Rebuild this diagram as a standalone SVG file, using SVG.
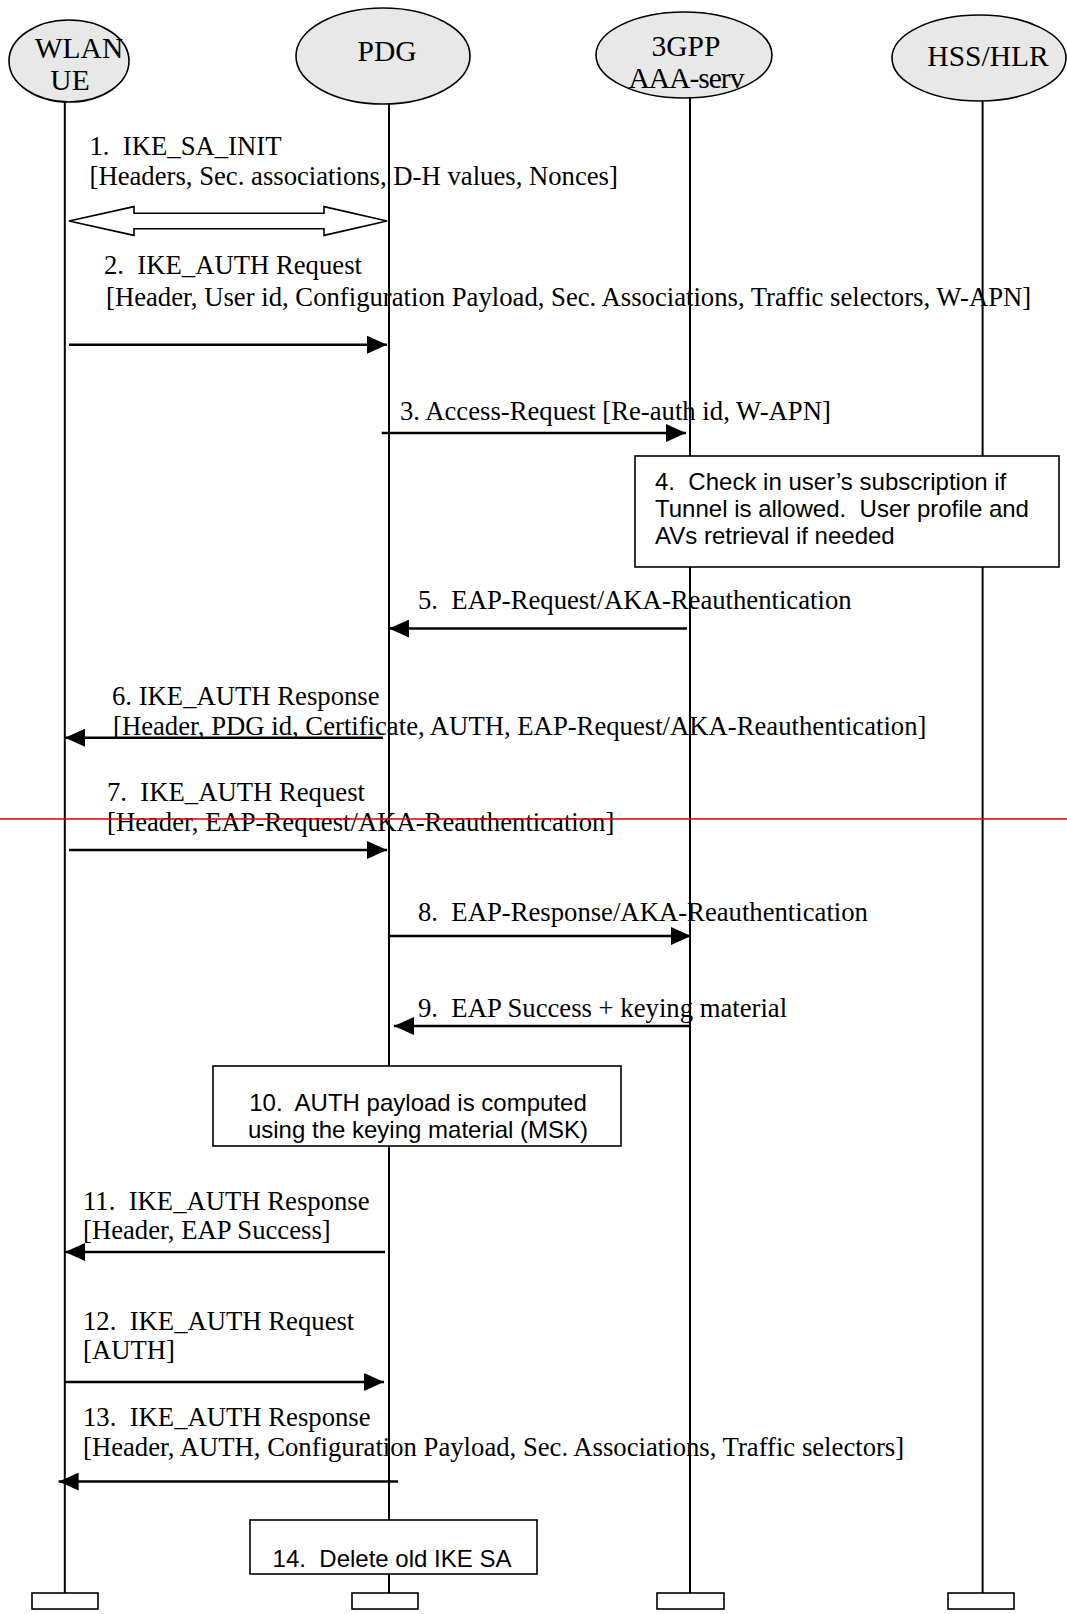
<svg xmlns="http://www.w3.org/2000/svg" width="1067" height="1614" viewBox="0 0 1067 1614">
<style>
.ent{fill:#e8e8e8;stroke:#000;stroke-width:1.6}
.life{stroke:#000;stroke-width:2;fill:none}
.foot{fill:#fff;stroke:#000;stroke-width:1.6}
.box{fill:#fff;stroke:#000;stroke-width:1.6}
.msg{stroke:#000;stroke-width:2.5;fill:none}
text{white-space:pre}
.t{font-family:"Liberation Serif","Times New Roman",serif;font-size:26.7px;fill:#000}
.et{font-family:"Liberation Serif","Times New Roman",serif;font-size:29.5px;fill:#000;text-anchor:middle}
.a{font-family:"Liberation Sans",Arial,sans-serif;font-size:24px;fill:#000}
</style>
<defs>
<marker id="ah" markerUnits="userSpaceOnUse" markerWidth="20" markerHeight="18" refX="20" refY="9" orient="auto">
<path d="M0,0 L20,9 L0,18 z" fill="#000"/>
</marker>
</defs>
<rect width="1067" height="1614" fill="#fff"/>

<g id="lifelines">
<line class="life" x1="64.8" y1="102" x2="64.8" y2="1593"/>
<line class="life" x1="389" y1="104" x2="389" y2="1593"/>
<line class="life" x1="690" y1="97" x2="690" y2="1593"/>
<line class="life" x1="982.6" y1="100" x2="982.6" y2="1593"/>
</g>

<g id="node-wlan-ue">
<ellipse class="ent" cx="69" cy="61" rx="60" ry="41"/>
<text class="et" x="79" y="58">WLAN</text>
<text class="et" x="70" y="90">UE</text>
<rect class="foot" x="32" y="1593" width="66" height="16"/>
</g>
<g id="node-pdg">
<ellipse class="ent" cx="383" cy="56" rx="87" ry="48"/>
<text class="et" x="387" y="61">PDG</text>
<rect class="foot" x="352" y="1593" width="66" height="16"/>
</g>
<g id="node-aaa">
<ellipse class="ent" cx="684" cy="55" rx="88" ry="43"/>
<text class="et" x="686" y="56">3GPP</text>
<text class="et" x="686" y="88" letter-spacing="-1">AAA-serv</text>
<rect class="foot" x="657" y="1593" width="67" height="16"/>
</g>
<g id="node-hss">
<ellipse class="ent" cx="979" cy="58" rx="87" ry="43"/>
<text class="et" x="988" y="65.5">HSS/HLR</text>
<rect class="foot" x="948" y="1593" width="66" height="16"/>
</g>

<g id="node-box4">
<rect class="box" x="635" y="456" width="424" height="111"/>
<text class="a" x="655" y="490">4.  Check in user’s subscription if</text>
<text class="a" x="655" y="516.5">Tunnel is allowed.  User profile and</text>
<text class="a" x="655" y="543.5">AVs retrieval if needed</text>
</g>
<g id="node-box10">
<rect class="box" x="213" y="1066" width="408" height="80"/>
<text class="a" x="418" y="1110.6" text-anchor="middle">10.  AUTH payload is computed</text>
<text class="a" x="418" y="1137.6" text-anchor="middle">using the keying material (MSK)</text>
</g>
<g id="node-box14">
<rect class="box" x="250" y="1520" width="287" height="54"/>
<text class="a" x="392" y="1566.6" text-anchor="middle">14.  Delete old IKE SA</text>
</g>

<g id="connectors">
<path d="M69,221 L134,206.6 L134,213.3 L324,213.3 L324,206.6 L387,221 L324,235.4 L324,228.7 L134,228.7 L134,235.4 Z" fill="#fff" stroke="#000" stroke-width="1.6"/>
<line class="msg" x1="69" y1="344.7" x2="387" y2="344.7" marker-end="url(#ah)"/>
<line class="msg" x1="381.7" y1="433" x2="686" y2="433" marker-end="url(#ah)"/>
<line class="msg" x1="687" y1="628.6" x2="389" y2="628.6" marker-end="url(#ah)"/>
<line class="msg" x1="383" y1="737.7" x2="65" y2="737.7" marker-end="url(#ah)"/>
<line class="msg" x1="69" y1="850" x2="387" y2="850" marker-end="url(#ah)"/>
<line class="msg" x1="389" y1="936" x2="691" y2="936" marker-end="url(#ah)"/>
<line class="msg" x1="691" y1="1026" x2="394" y2="1026" marker-end="url(#ah)"/>
<line class="msg" x1="385" y1="1252" x2="65" y2="1252" marker-end="url(#ah)"/>
<line class="msg" x1="65" y1="1382" x2="384" y2="1382" marker-end="url(#ah)"/>
<line class="msg" x1="398" y1="1481.6" x2="58.6" y2="1481.6" marker-end="url(#ah)"/>
</g>

<g id="labels">
<text class="t" x="89.5" y="154.5">1.  IKE_SA_INIT</text>
<text class="t" x="89.5" y="184.5">[Headers, Sec. associations, D-H values, Nonces]</text>
<text class="t" x="104" y="274">2.  IKE_AUTH Request</text>
<text class="t" x="106" y="305.5">[Header, User id, Configuration Payload, Sec. Associations, Traffic selectors, W-APN]</text>
<text class="t" x="400" y="420">3. Access-Request [Re-auth id, W-APN]</text>
<text class="t" x="418" y="608.5">5.  EAP-Request/AKA-Reauthentication</text>
<text class="t" x="112" y="705">6. IKE_AUTH Response</text>
<text class="t" x="113" y="734.5">[Header, PDG id, Certificate, AUTH, EAP-Request/AKA-Reauthentication]</text>
<text class="t" x="107" y="800.5">7.  IKE_AUTH Request</text>
<text class="t" x="107" y="830.5">[Header, EAP-Request/AKA-Reauthentication]</text>
<text class="t" x="418" y="921">8.  EAP-Response/AKA-Reauthentication</text>
<text class="t" x="418" y="1016.5">9.  EAP Success + keying material</text>
<text class="t" x="83" y="1209.5">11.  IKE_AUTH Response</text>
<text class="t" x="83" y="1239">[Header, EAP Success]</text>
<text class="t" x="83" y="1329.5">12.  IKE_AUTH Request</text>
<text class="t" x="83" y="1358.5">[AUTH]</text>
<text class="t" x="83" y="1425.5">13.  IKE_AUTH Response</text>
<text class="t" x="83" y="1455.5">[Header, AUTH, Configuration Payload, Sec. Associations, Traffic selectors]</text>
</g>

<line id="red-line" x1="0" y1="819" x2="1067" y2="819" stroke="#e00000" stroke-width="1.5"/>
</svg>
